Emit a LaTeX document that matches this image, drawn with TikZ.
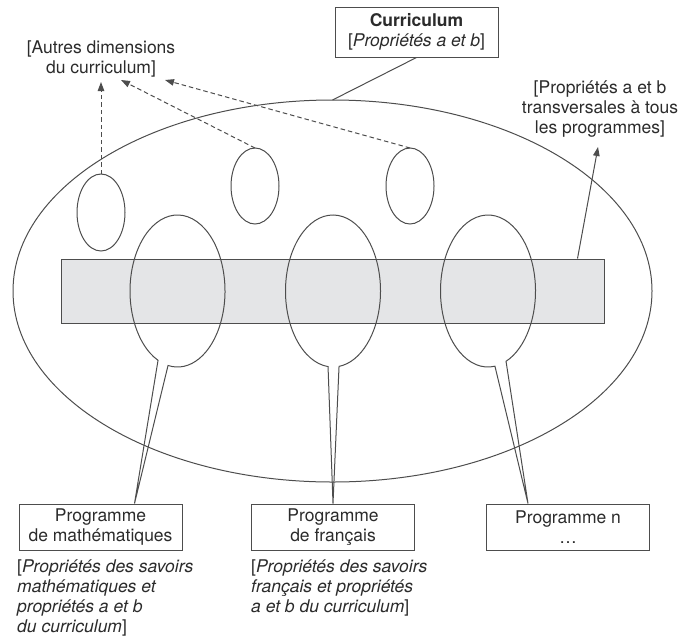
\documentclass[tikz,border=0pt]{standalone}
\usepackage{fontspec}
\setmainfont{TeX Gyre Heros}
\usetikzlibrary{shapes.geometric,arrows.meta,calc}
\definecolor{ink}{HTML}{4D4D4D}
\definecolor{txt}{HTML}{2B2B2B}
\definecolor{bandfill}{HTML}{E4E5E7}
\begin{document}
\begin{tikzpicture}[x=1pt,y=-1pt,
  font=\fontsize{17.5}{20}\selectfont,
  line/.style={draw=ink, line width=1pt},
  oval/.style={ellipse, line, inner sep=0pt, outer sep=0pt},
  progbox/.style={line, minimum width=163pt, minimum height=46pt, inner sep=0pt, align=center, text=txt},
  label/.style={inner sep=0pt, text=txt},
  note/.style={inner sep=0pt, text=txt, align=left, anchor=west, font=\fontsize{17.5}{20.3}\selectfont\itshape},
  dasharrow/.style={line, dash pattern=on 4.5pt off 3pt, -{Triangle[length=9pt,width=6.5pt]}},
  solidarrow/.style={line, -{Triangle[length=9pt,width=6.5pt]}}]
\useasboundingbox (0,0) rectangle (684,640);

% the curriculum as a whole
\node[oval, minimum width=639pt, minimum height=382pt] (curr) at (332.5,291) {};

% band of properties shared by all programmes
\node[line, fill=bandfill, minimum width=543pt, minimum height=64pt, inner sep=0pt] (band) at (332.5,291) {};

% programme boxes
\node[progbox] (pm) at (100.5,527) {Programme\\de mathématiques};
\node[progbox] (pf) at (333,527) {Programme\\de français};
\node[progbox] (pn) at (568,527) {Programme n\\\ldots};

% tips of the three programme bubbles
\coordinate (t1) at ($(pm.north west)+(116,0)$);
\coordinate (t2) at ($(pf.north west)+(82,0)$);
\coordinate (t3) at ($(pn.north west)+(42,0)$);

% programme bubbles (ellipse opened where the tail leaves it)
\coordinate (b1) at (177.5,291);
\coordinate (b2) at (333,291);
\coordinate (b3) at (488,291);
\draw[line] (b1) ++(114.2:47.5 and 76)
  arc[start angle=114.2, end angle=461.5, x radius=47.5, y radius=76] -- (t1) -- cycle;
\draw[line] (b2) ++(96:47.5 and 76)
  arc[start angle=96, end angle=442.7, x radius=47.5, y radius=76] -- (t2) -- cycle;
\draw[line] (b3) ++(81.6:47.5 and 76)
  arc[start angle=81.6, end angle=427.7, x radius=47.5, y radius=76] -- (t3) -- cycle;

% other dimensions of the curriculum
\node[oval, minimum width=48pt, minimum height=77pt] (s1) at (101,212.5) {};
\node[oval, minimum width=48pt, minimum height=76pt] (s2) at (255,186) {};
\node[oval, minimum width=48pt, minimum height=76pt] (s3) at (410,186) {};

% labels
\node[line, minimum width=163pt, minimum height=50pt, inner sep=0pt, align=center, text=txt]
  (cbox) at (416.5,32) {{\bfseries Curriculum}\\{[}\textit{Propriétés a et b}]};
\node[label, align=center] (autres) at (101,59) {{[}Autres dimensions\\du curriculum]};
\node[label, align=center] (trans) at (600,109) {{[}Propriétés a et b\\transversales à tous\\les programmes]};
\node[note] (n1) at (17,598) {{\upshape[}Propriétés des savoirs\\mathématiques et\\propriétés a et b\\du curriculum{\upshape]}};
\node[note] (n2) at (251,588) {{\upshape[}Propriétés des savoirs\\français et propriétés\\a et b du curriculum{\upshape]}};

% connectors
\draw[line] (cbox.south) -- (curr.north);
\coordinate (a1) at (101,82);
\coordinate (a2) at (121,80);
\coordinate (a3) at (165,80);
\draw[dasharrow] (s1.north) -- (a1);
\draw[dasharrow] (s2.north) -- (a2);
\draw[dasharrow] (s3.north) -- (a3);
\coordinate (rs) at ($(band.north east)+(-27,0)$);
\coordinate (rt) at (598,147);
\draw[solidarrow] (rs) -- (rt);
\end{tikzpicture}
\end{document}
